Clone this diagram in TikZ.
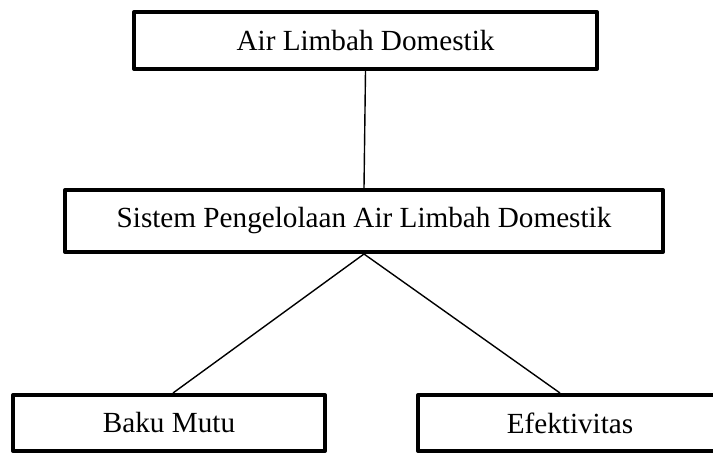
\documentclass[tikz,border=0pt]{standalone}
\usepackage{fontspec}
\setmainfont{Liberation Serif}
\begin{document}
\begin{tikzpicture}[x=0.5pt,y=-0.5pt,
  kotak/.style={draw,line width=2pt,line join=round,rectangle,inner sep=0pt,
    font=\fontsize{14.6}{17}\selectfont},
  garis/.style={line width=0.7pt}]
\useasboundingbox (0,0) rectangle (713,455);
% tingkat atas
\node[kotak,minimum width=463*0.5pt,minimum height=57*0.5pt] (air) at (365.5,40.5) {Air Limbah Domestik};
% tingkat tengah
\node[kotak,minimum width=598*0.5pt,minimum height=62*0.5pt] (sistem) at (364,221) {Sistem Pengelolaan Air Limbah Domestik};
% tingkat bawah
\node[kotak,minimum width=312*0.5pt,minimum height=56*0.5pt] (baku) at (169,423) {Baku Mutu};
\node[kotak,minimum width=304*0.5pt,minimum height=56*0.5pt] (efek) at (570,423) {Efektivitas};
\draw[garis] (air.south) -- (sistem.north);
\draw[garis] (sistem.south) -- ([xshift=2pt]baku.north);
\draw[garis] (sistem.south) -- ([xshift=-5pt]efek.north);
\end{tikzpicture}
\end{document}
